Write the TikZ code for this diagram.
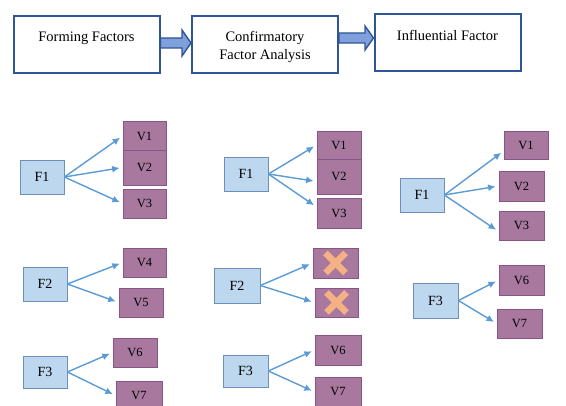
\documentclass[tikz,border=0pt]{standalone}
\usepackage{fontspec}
\setmainfont{Liberation Serif}
\usetikzlibrary{arrows.meta}

\definecolor{stepborder}{HTML}{2F5597}
\definecolor{stepfill}{HTML}{7FA0DA}
\definecolor{facfill}{HTML}{BDD7EE}
\definecolor{facdraw}{HTML}{6C90B8}
\definecolor{varfill}{HTML}{A8789F}
\definecolor{vardraw}{HTML}{8A5586}
\definecolor{linkcol}{HTML}{5B9BD5}
\definecolor{dropcol}{HTML}{F4B183}

\tikzset{
  stepbox/.style={draw=stepborder,line width=2pt,fill=white,minimum width=146pt,
    minimum height=57pt,align=center,font=\fontsize{14.5}{18}\selectfont},
  toptext/.style={text depth=15pt},
  blockarr/.style={draw=stepborder,fill=stepfill,line width=1.4pt,line join=miter},
  fac/.style={draw=facdraw,fill=facfill,line width=0.8pt,minimum width=44pt,
    minimum height=34pt,inner sep=0pt,font=\fontsize{14}{16}\selectfont},
  var/.style={draw=vardraw,fill=varfill,line width=0.8pt,minimum width=43pt,
    minimum height=29pt,inner sep=0pt,font=\fontsize{12.5}{14}\selectfont},
  dropped/.style={var,path picture={
    \draw[dropcol,line width=6.5pt] (path picture bounding box.center) +(-10,-10) -- +(10,10)
      (path picture bounding box.center) +(-10,10) -- +(10,-10);}},
  link/.style={draw=linkcol,line width=1.4pt,-{Latex[length=7.5pt,width=7pt]},shorten >=3pt}
}

\begin{document}
\begin{tikzpicture}[x=1pt,y=-1pt]
\useasboundingbox (0,0) rectangle (566,406);

% steps
\node[stepbox,toptext] (form) at (86.5,44.5) {Forming Factors};
\node[stepbox,text height=34pt] (cfa) at (265,44.5) {Confirmatory\\Factor Analysis};
\node[stepbox,toptext] (infl) at (447.5,43) {Influential Factor};
\draw[blockarr] (form.east |- 0,38) -- (182,38) -- (182,30) -- (cfa.west |- 0,43)
  -- (182,56) -- (182,48) -- (form.east |- 0,48) -- cycle;
\draw[blockarr] (cfa.east |- 0,33) -- (365,33) -- (365,26) -- (infl.west |- 0,38)
  -- (365,50) -- (365,43) -- (cfa.east |- 0,43) -- cycle;

% forming factors
\node[fac] (f1a) at (42,177) {F1};
\node[var] (v1a) at (144.5,136) {V1};
\node[var,minimum height=35pt] (v2a) at (144.5,167.5) {V2};
\node[var] (v3a) at (144.5,203.5) {V3};
\node[fac] (f2a) at (45,284) {F2};
\node[var] (v4a) at (144.5,262.5) {V4};
\node[var,minimum width=44pt] (v5a) at (141,302.5) {V5};
\node[fac,minimum height=32pt] (f3a) at (45,372) {F3};
\node[var,minimum width=44pt] (v6a) at (135,352.5) {V6};
\node[var,minimum width=46pt] (v7a) at (139,395.5) {V7};

\draw[link] (f1a.east) -- (v1a.west);
\draw[link] (f1a.east) -- (v2a.west);
\draw[link] (f1a.east) -- (v3a.west);
\draw[link] (f2a.east) -- (v4a.west);
\draw[link] (f2a.east) -- (v5a.west);
\draw[link] (f3a.east) -- (v6a.west);
\draw[link] (f3a.east) -- (v7a.west);

% confirmatory factor analysis
\node[fac] (f1b) at (246,174) {F1};
\node[var,minimum width=44pt,minimum height=28pt] (v1b) at (339,145) {V1};
\node[var,minimum width=44pt,minimum height=35pt] (v2b) at (339,176.5) {V2};
\node[var,minimum width=44pt,minimum height=30pt] (v3b) at (339,213) {V3};
\node[fac,minimum width=46pt,minimum height=35pt] (f2b) at (237,285.5) {F2};
\node[dropped,minimum width=45pt,minimum height=30pt] (v4b) at (335.5,263) {};
\node[dropped] (v5b) at (336.5,302.5) {};
\node[fac,minimum width=45pt,minimum height=32pt] (f3b) at (245.5,371) {F3};
\node[var,minimum width=46pt,minimum height=30pt] (v6b) at (338,350) {V6};
\node[var,minimum width=46pt] (v7b) at (338,392) {V7};

\draw[link] (f1b.east) -- (v1b.west);
\draw[link] (f1b.east) -- ([yshift=-5pt]v2b.west);
\draw[link] (f1b.east) -- ([yshift=6pt]v3b.west);
\draw[link] (f2b.east) -- (v4b.west);
\draw[link] (f2b.east) -- (v5b.west);
\draw[link] (f3b.east) -- (v6b.west);
\draw[link] (f3b.east) -- (v7b.west);

% influential factor
\node[fac] (f1c) at (422,195) {F1};
\node[var,minimum width=44pt,minimum height=28pt] (v1c) at (526,145) {V1};
\node[var,minimum width=45pt,minimum height=30pt] (v2c) at (521.5,186) {V2};
\node[var,minimum width=45pt] (v3c) at (521.5,225.5) {V3};
\node[fac,minimum width=45pt,minimum height=35pt] (f3c) at (435.5,300.5) {F3};
\node[var,minimum width=45pt,minimum height=30pt] (v6c) at (521.5,280) {V6};
\node[var,minimum width=45pt] (v7c) at (519.5,323.5) {V7};

\draw[link] (f1c.east) -- ([yshift=-6pt]v1c.west);
\draw[link] (f1c.east) -- (v2c.west);
\draw[link] (f1c.east) -- ([yshift=-6pt]v3c.west);
\draw[link] (f3c.east) -- (v6c.west);
\draw[link] (f3c.east) -- (v7c.west);

\end{tikzpicture}
\end{document}
